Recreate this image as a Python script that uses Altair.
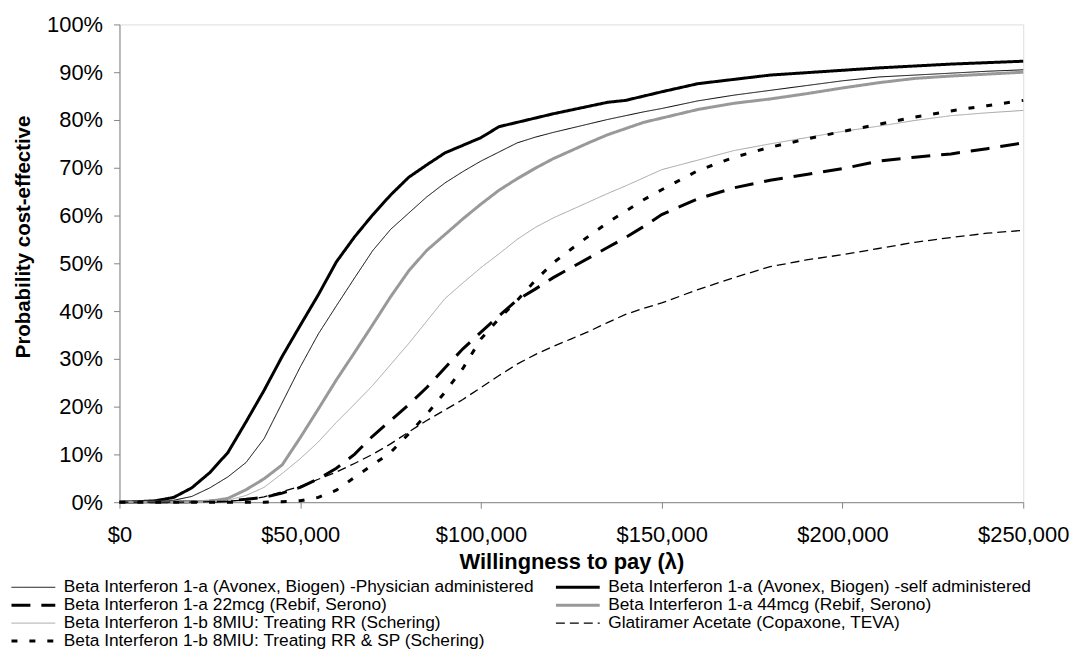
import altair as alt
import pandas as pd

# Willingness to pay grid (x values, $)
WTP = [0, 5000, 10000, 15000, 20000, 25000, 30000, 35000, 40000, 45000,
       50000, 55000, 60000, 65000, 70000, 75000, 80000, 85000, 90000, 95000,
       100000, 105000, 110000, 115000, 120000, 125000, 130000, 135000, 140000, 145000,
       150000, 160000, 170000, 180000, 190000, 200000, 210000, 220000, 230000, 240000, 250000]

SERIES = [
    "Beta Interferon 1-a (Avonex, Biogen) -Physician administered",
    "Beta Interferon 1-a (Avonex, Biogen) -self administered",
    "Beta Interferon 1-a 22mcg (Rebif, Serono)",
    "Beta Interferon 1-a 44mcg (Rebif, Serono)",
    "Beta Interferon 1-b 8MIU: Treating RR (Schering)",
    "Glatiramer Acetate (Copaxone, TEVA)",
    "Beta Interferon 1-b 8MIU: Treating RR & SP (Schering)",
]

# Probability cost-effective (%) for each series
PHYSICIAN = [0, 0, 0.1, 0.4, 1.2, 3.0, 5.3, 8.3, 13.3, 20.8,
             28.3, 35.2, 41.1, 46.9, 52.6, 57.1, 60.5, 63.9, 66.8, 69.2,
             71.4, 73.3, 75.2, 76.4, 77.4, 78.3, 79.2, 80.1, 80.9, 81.7,
             82.4, 84.0, 85.2, 86.2, 87.2, 88.2, 89.0, 89.4, 89.8, 90.2, 90.5]
SELF = [0, 0.1, 0.3, 1.0, 3.0, 6.2, 10.4, 16.8, 23.4, 30.5,
        37.0, 43.4, 50.3, 55.5, 60.1, 64.3, 68.0, 70.6, 73.1, 74.7,
        76.3, 78.6, 79.5, 80.4, 81.3, 82.1, 82.9, 83.7, 84.1, 85.0,
        85.9, 87.6, 88.5, 89.4, 89.9, 90.4, 90.9, 91.3, 91.7, 92.0, 92.3]
REBIF22 = [0, 0, 0, 0, 0.1, 0.2, 0.3, 0.6, 1.0, 1.9,
           3.1, 4.9, 7.1, 10.0, 13.8, 17.1, 20.4, 24.0, 28.1, 32.1,
           35.6, 39.0, 42.3, 44.6, 47.0, 49.1, 51.2, 53.3, 55.4, 57.7,
           60.2, 63.5, 65.8, 67.4, 68.6, 69.8, 71.4, 72.2, 72.9, 74.0, 75.2]
REBIF44 = [0, 0, 0, 0, 0.1, 0.2, 0.8, 2.6, 4.9, 7.8,
           13.5, 19.5, 25.6, 31.3, 37.1, 43.0, 48.4, 52.7, 56.0, 59.3,
           62.4, 65.3, 67.7, 69.9, 71.9, 73.6, 75.3, 76.9, 78.2, 79.5,
           80.4, 82.2, 83.5, 84.4, 85.5, 86.7, 87.8, 88.7, 89.2, 89.6, 90.0]
RR = [0, 0, 0, 0, 0, 0.1, 0.4, 1.4, 3.1, 6.0,
      9.1, 12.6, 16.7, 20.5, 24.4, 28.8, 33.2, 37.9, 42.6, 45.9,
      49.1, 52.0, 55.0, 57.5, 59.5, 61.2, 62.9, 64.6, 66.2, 67.9,
      69.6, 71.6, 73.6, 75.0, 76.3, 77.6, 78.7, 79.9, 80.9, 81.5, 82.0]
GLATIRAMER = [0, 0, 0, 0, 0, 0.1, 0.2, 0.5, 1.1, 2.2,
              3.3, 4.8, 6.3, 8.1, 10.0, 12.2, 14.7, 17.1, 19.3, 21.5,
              24.0, 26.5, 28.9, 30.9, 32.6, 34.2, 35.8, 37.6, 39.3, 40.6,
              41.7, 44.5, 47.0, 49.3, 50.7, 51.8, 53.1, 54.4, 55.4, 56.3, 56.9]
RRSP = [0, 0, 0, 0, 0, 0, 0, 0, 0, 0.1,
        0.3, 1.0, 2.5, 5.2, 7.8, 10.4, 14.3, 18.4, 23.0, 28.0,
        34.2, 38.4, 42.2, 46.4, 50.1, 53.0, 55.8, 58.5, 60.9, 63.3,
        65.4, 69.4, 72.2, 74.3, 76.0, 77.6, 79.1, 80.6, 81.9, 83.0, 84.1]

VALUES = [PHYSICIAN, SELF, REBIF22, REBIF44, RR, GLATIRAMER, RRSP]

COLORS = ["#000000", "#000000", "#000000", "#999999", "#a3a3a3", "#000000", "#000000"]
DASHES = [[1, 0], [1, 0], [19, 11], [1, 0], [1, 0], [9, 5], [6, 12]]
WIDTHS = [1, 3, 3, 3, 1, 1.3, 3]

X_TICKS = [0, 50000, 100000, 150000, 200000, 250000]
Y_TICKS = [0, 0.1, 0.2, 0.3, 0.4, 0.5, 0.6, 0.7, 0.8, 0.9, 1.0]

rows = []
for name, vals in zip(SERIES, VALUES):
    for x, v in zip(WTP, vals):
        rows.append({"series": name, "wtp": x, "p": v / 100.0})
df = pd.DataFrame(rows)

FONT = "Liberation Sans"
AXIS_GREY = "#868686"

legend = alt.Legend(
    title=None, orient="none", legendX=-110, legendY=557, direction="horizontal",
    columns=2, columnPadding=20, rowPadding=0, clipHeight=17,
    symbolType="stroke", symbolSize=1936, symbolOffset=0, labelOffset=7,
    labelFontSize=17.4, labelFont=FONT, labelColor="#000000", labelLimit=0,
    padding=0, symbolOpacity=1,
)

chart = alt.Chart(df).mark_line().encode(
    x=alt.X("wtp:Q",
            scale=alt.Scale(domain=[0, 250000], nice=False, zero=True),
            axis=alt.Axis(values=X_TICKS, format="$,.0f", title="Willingness to pay (λ)",
                          grid=False, labelFontSize=22, labelFont=FONT, labelColor="#000000",
                          titleFontSize=22, titleFont=FONT, titleFontWeight="bold",
                          titleColor="#000000", titleBaseline="alphabetic", titleY=67,
                          tickSize=6, labelPadding=17, domainColor=AXIS_GREY,
                          tickColor=AXIS_GREY, labelFlush=False, labelOverlap=False)),
    y=alt.Y("p:Q",
            scale=alt.Scale(domain=[0, 1], nice=False),
            axis=alt.Axis(values=Y_TICKS, format=".0%", title="Probability cost-effective",
                          grid=False, labelFontSize=22, labelFont=FONT, labelColor="#000000",
                          titleFontSize=20.5, titleFont=FONT, titleFontWeight="bold",
                          titleColor="#000000", titleBaseline="alphabetic", titleAngle=270,
                          titleX=-90, titleY=213,
                          tickSize=6, labelPadding=11, domainColor=AXIS_GREY,
                          tickColor=AXIS_GREY, labelOverlap=False)),
    color=alt.Color("series:N", scale=alt.Scale(domain=SERIES, range=COLORS), legend=legend),
    strokeDash=alt.StrokeDash("series:N", scale=alt.Scale(domain=SERIES, range=DASHES), legend=legend),
    strokeWidth=alt.StrokeWidth("series:N",
                                scale=alt.Scale(type="ordinal", domain=SERIES, range=WIDTHS),
                                legend=legend),
).properties(
    width=908, height=480,
    padding={"left": 112, "top": 15, "right": 48, "bottom": 147},
    autosize=alt.AutoSizeParams(type="none"),
).configure_view(stroke=None).configure(font=FONT, background="white")

chart.save("out.html", embed_options={"renderer": "svg", "actions": False})
